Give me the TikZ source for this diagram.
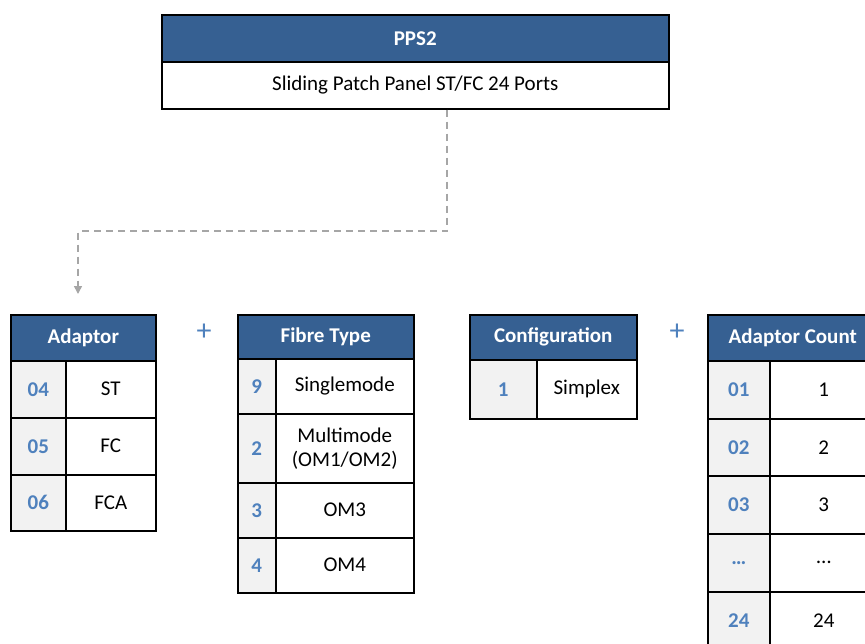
\documentclass[tikz,border=0pt]{standalone}
\usepackage{fontspec}
\setmainfont{Carlito}
\usetikzlibrary{arrows.meta}
\definecolor{hdr}{HTML}{366092}
\definecolor{codefill}{HTML}{F2F2F2}
\definecolor{codetxt}{HTML}{4F81BD}
\definecolor{conncol}{HTML}{A6A6A6}
\tikzset{
 cell/.style={draw=black, line width=1.5pt, anchor=north west, inner sep=0pt, align=center, font=\fontsize{21}{24}\selectfont},
 hdrcell/.style={cell, fill=hdr, text=white, font=\bfseries\fontsize{21}{24}\selectfont},
 codecell/.style={cell, fill=codefill, text=codetxt, font=\bfseries\fontsize{21}{24}\selectfont},
 valcell/.style={cell, fill=white},
 plussign/.style={text=codetxt, inner sep=0pt, font=\fontsize{30}{30}\selectfont},
 link/.style={draw=conncol, line width=1.5pt, dash pattern=on 7pt off 5pt, -{Triangle[width=8pt,length=8pt]}}
}
\begin{document}
\begin{tikzpicture}[x=1pt,y=-1pt]
\useasboundingbox (0,0) rectangle (865,643);
\clip (0,0) rectangle (865,643);
% top box
\node[hdrcell, minimum width=507pt, minimum height=47pt] (pps) at (161,14) {PPS2};
\node[valcell, minimum width=507pt, minimum height=47pt] (ppsdesc) at (161,61) {Sliding Patch Panel ST/FC 24 Ports};
% Adaptor
\node[hdrcell, minimum width=145pt, minimum height=46pt] (adh) at (10,314) {Adaptor};
\node[codecell, minimum width=55pt, minimum height=57pt] (ad1c) at (10,360) {04};
\node[valcell, minimum width=90pt, minimum height=57pt] (ad1v) at (65,360) {ST};
\node[codecell, minimum width=55pt, minimum height=57pt] (ad2c) at (10,417) {05};
\node[valcell, minimum width=90pt, minimum height=57pt] (ad2v) at (65,417) {FC};
\node[codecell, minimum width=55pt, minimum height=56pt] (ad3c) at (10,474) {06};
\node[valcell, minimum width=90pt, minimum height=56pt] (ad3v) at (65,474) {FCA};
\node[plussign] (plus1) at (204,332) {+};
% Fibre type
\node[hdrcell, minimum width=176pt, minimum height=44pt] (fth) at (237,314) {Fibre Type};
\node[codecell, minimum width=38pt, minimum height=55pt] (ft1c) at (237,358) {9};
\node[valcell, minimum width=138pt, minimum height=55pt] (ft1v) at (275,358) {Singlemode};
\node[codecell, minimum width=38pt, minimum height=69pt] (ft2c) at (237,413) {2};
\node[valcell, minimum width=138pt, minimum height=69pt] (ft2v) at (275,413) {Multimode\\(OM1/OM2)};
\node[codecell, minimum width=38pt, minimum height=55pt] (ft3c) at (237,482) {3};
\node[valcell, minimum width=138pt, minimum height=55pt] (ft3v) at (275,482) {OM3};
\node[codecell, minimum width=38pt, minimum height=55pt] (ft4c) at (237,537) {4};
\node[valcell, minimum width=138pt, minimum height=55pt] (ft4v) at (275,537) {OM4};
% Configuration
\node[hdrcell, minimum width=167pt, minimum height=45pt] (cfh) at (469,314) {Configuration};
\node[codecell, minimum width=67pt, minimum height=59pt] (cf1c) at (469,359) {1};
\node[valcell, minimum width=100pt, minimum height=59pt] (cf1v) at (536,359) {Simplex};
\node[plussign] (plus2) at (677,332) {+};
% Adaptor count
\node[hdrcell, minimum width=170pt, minimum height=46pt] (ach) at (707,314) {Adaptor Count};
\node[codecell, minimum width=62pt, minimum height=58pt] (ac1c) at (707,360) {01};
\node[valcell, minimum width=108pt, minimum height=58pt] (ac1v) at (769,360) {1};
\node[codecell, minimum width=62pt, minimum height=57pt] (ac2c) at (707,418) {02};
\node[valcell, minimum width=108pt, minimum height=57pt] (ac2v) at (769,418) {2};
\node[codecell, minimum width=62pt, minimum height=58pt] (ac3c) at (707,475) {03};
\node[valcell, minimum width=108pt, minimum height=58pt] (ac3v) at (769,475) {3};
\node[codecell, minimum width=62pt, minimum height=58pt] (ac4c) at (707,533) {…};
\node[valcell, minimum width=108pt, minimum height=58pt] (ac4v) at (769,533) {…};
\node[codecell, minimum width=62pt, minimum height=58pt] (ac5c) at (707,591) {24};
\node[valcell, minimum width=108pt, minimum height=58pt] (ac5v) at (769,591) {24};
% connector
\coordinate (bendA) at (447,231);
\coordinate (bendB) at (78,231);
\coordinate (arrowend) at (78,294);
\draw[link] (ppsdesc.south -| bendA) -- (bendA) -- (bendB) -- (arrowend);
\end{tikzpicture}
\end{document}
